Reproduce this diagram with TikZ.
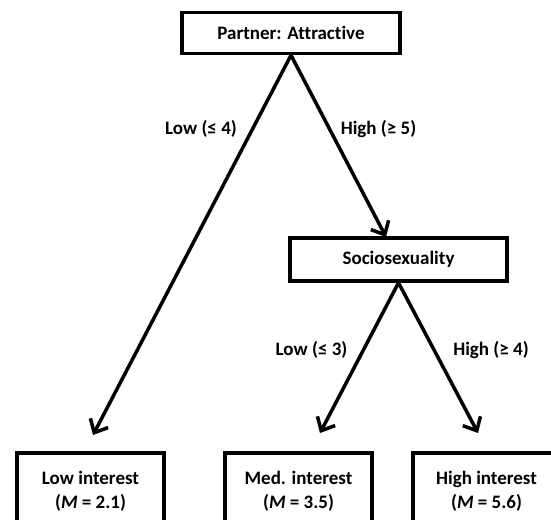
\documentclass[tikz,border=0pt]{standalone}
\usepackage{fontspec}
\setmainfont[Ligatures=NoCommon]{Carlito}
\usetikzlibrary{arrows.meta}
\begin{document}
\begin{tikzpicture}[x=1pt,y=-1pt,
  box/.style={draw=black, line width=3.5pt, inner sep=0pt, align=center,
    font=\fontsize{19}{24}\selectfont\bfseries, fill=white},
  lbl/.style={font=\fontsize{19}{22}\selectfont\bfseries, inner sep=0pt},
  arr/.style={line width=3.5pt, -{Straight Barb[length=11pt,width=20pt,line width=3.5pt]}}]
\clip (0,0) rectangle (551,519);
\useasboundingbox (0,0) rectangle (551,519);
\node[box, minimum width=218pt, minimum height=41pt] (top) at (291,33) {Partner: Attractive};
\node[box, minimum width=217pt, minimum height=43pt] (socio) at (398.5,259.5) {Sociosexuality};
\node[box, minimum width=147pt, minimum height=76pt] (low) at (90.5,491) {Low interest\\(\textit{M} = 2.1)};
\node[box, minimum width=147pt, minimum height=76pt] (med) at (298.5,491) {Med. interest\\(\textit{M} = 3.5)};
\node[box, minimum width=147pt, minimum height=76pt] (high) at (486.5,491) {High interest\\(\textit{M} = 5.6)};
\coordinate (tipL) at (93,435);
\coordinate (tipS) at (386,237);
\coordinate (tipM) at (320,433);
\coordinate (tipH) at (478,433);
\draw[arr] (top.south) -- (tipL);
\draw[arr] (top.south) -- (tipS);
\draw[arr] (socio.south) -- (tipM);
\draw[arr] (socio.south) -- (tipH);
\node[lbl] (l1) at (201,129) {Low (≤ 4)};
\node[lbl] (l2) at (378.5,129) {High (≥ 5)};
\node[lbl] (l3) at (311.5,350) {Low (≤ 3)};
\node[lbl] (l4) at (491,350) {High (≥ 4)};
\end{tikzpicture}
\end{document}
